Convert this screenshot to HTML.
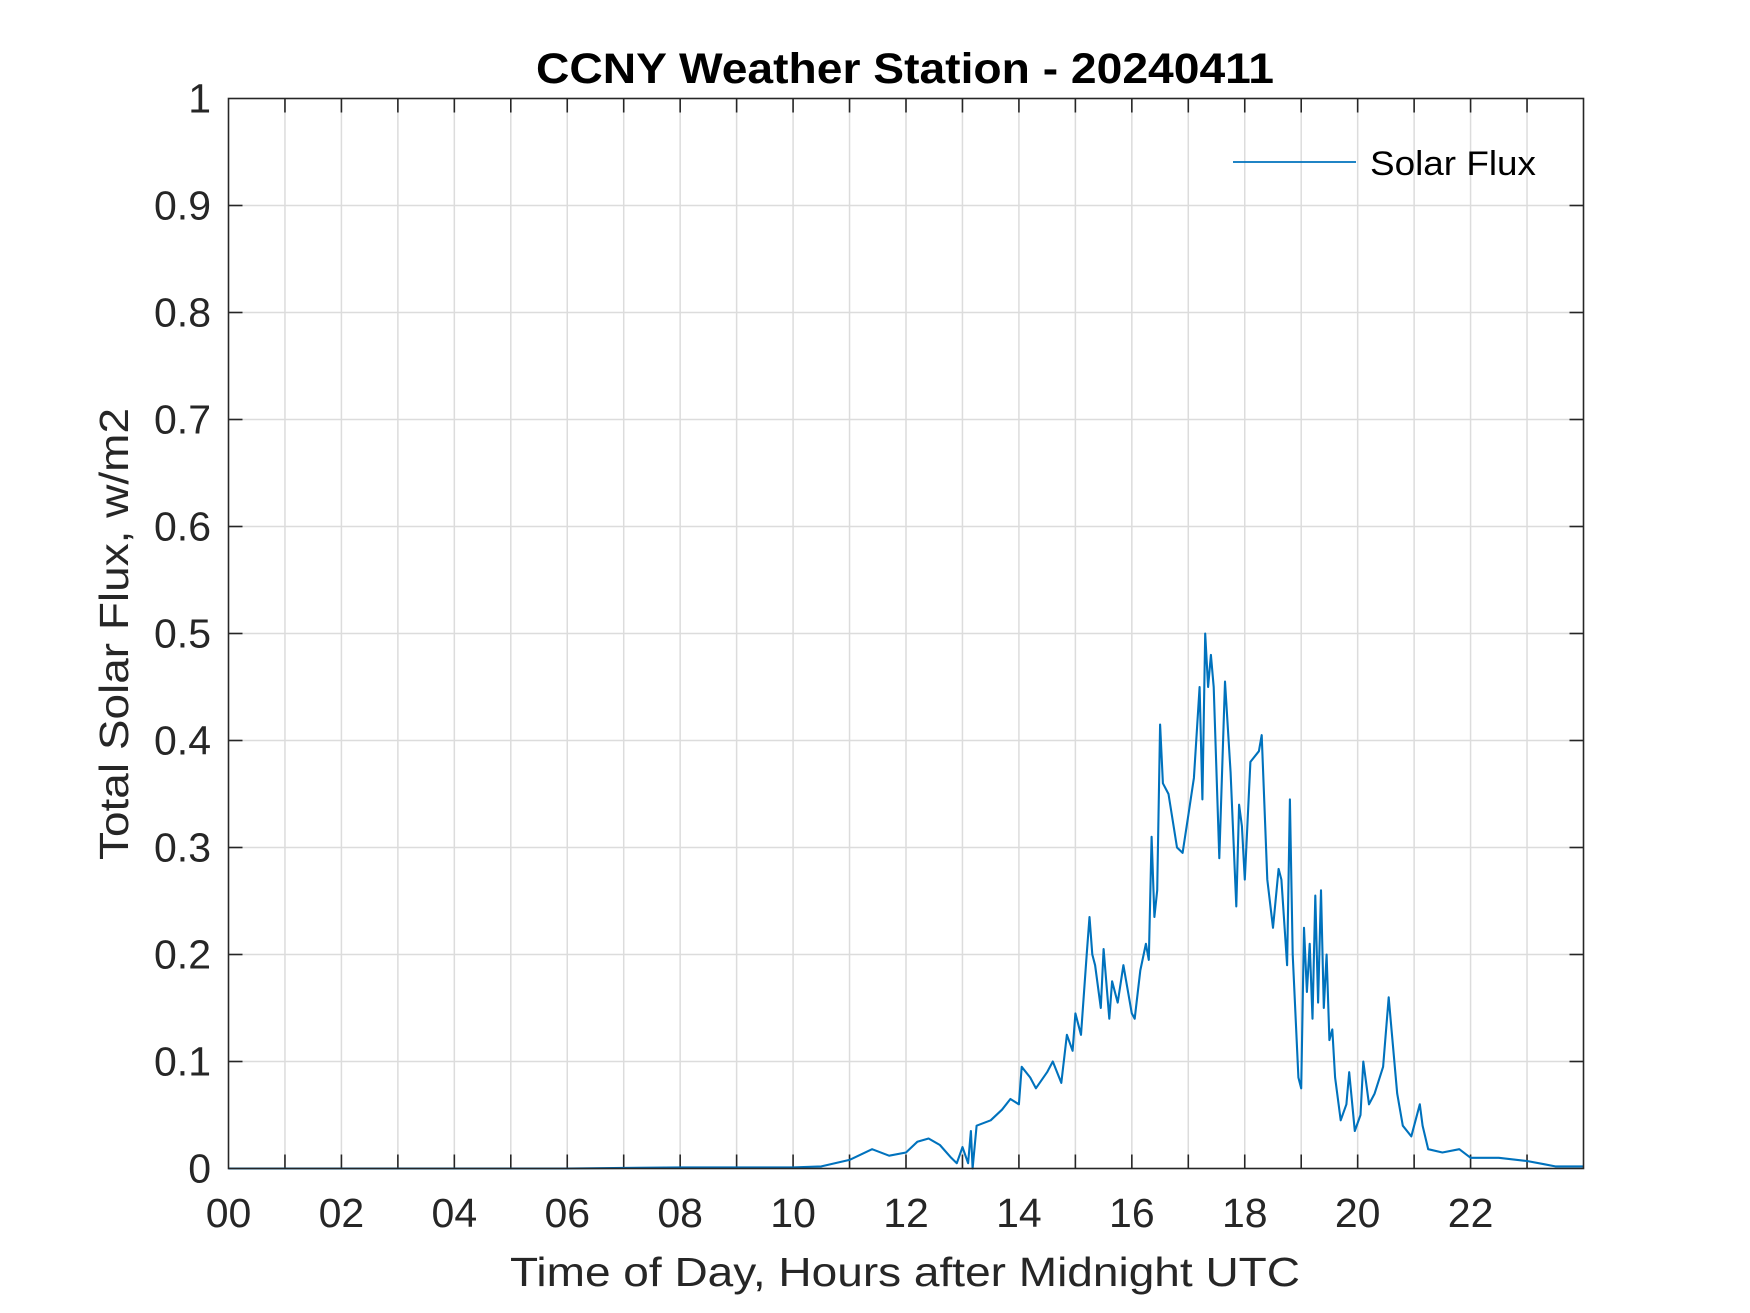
<!DOCTYPE html>
<html><head><meta charset="utf-8">
<style>
html,body{margin:0;padding:0;background:#fff;}
svg{display:block;font-family:"Liberation Sans",Arial,sans-serif;}
</style></head>
<body>
<svg id="chart" width="1750" height="1313" viewBox="0 0 1750 1313" xmlns="http://www.w3.org/2000/svg">
<rect width="1750" height="1313" fill="#fff"/>
<text x="905" y="83" text-anchor="middle" font-size="43" font-weight="bold" fill="#000" textLength="738" lengthAdjust="spacingAndGlyphs">CCNY Weather Station - 20240411</text>
<g id="grid"></g>
<g id="ticks"></g>
<g id="labels"></g>
<polyline id="series" fill="none" stroke="#0072BD" stroke-width="2.1" stroke-linejoin="round"/>
<rect x="228.5" y="98.5" width="1355" height="1070" fill="none" stroke="#262626" stroke-width="1.6"/>
<g>
<line x1="1233" y1="162" x2="1356" y2="162" stroke="#0072BD" stroke-width="1.8"/>
<text x="1370" y="175" font-size="34" fill="#000" textLength="166" lengthAdjust="spacingAndGlyphs">Solar Flux</text>
</g>
<text x="905" y="1286" text-anchor="middle" font-size="41" fill="#262626" textLength="790" lengthAdjust="spacingAndGlyphs">Time of Day, Hours after Midnight UTC</text>
<text transform="translate(128,634) rotate(-90)" text-anchor="middle" font-size="41" fill="#262626" textLength="452" lengthAdjust="spacingAndGlyphs">Total Solar Flux, w/m2</text>
</svg>
<script>
const hours = [0,2,4,6,8,9,10,10.5,11,11.4,11.7,12,12.2,12.4,12.6,12.8,12.9,13.0,13.1,13.15,13.18,13.25,13.5,13.7,13.85,14.0,14.05,14.2,14.3,14.5,14.6,14.75,14.85,14.95,15.0,15.1,15.2,15.25,15.3,15.35,15.45,15.5,15.6,15.65,15.75,15.85,15.9,16.0,16.05,16.15,16.25,16.3,16.35,16.4,16.45,16.5,16.55,16.65,16.8,16.9,17.0,17.1,17.2,17.25,17.3,17.35,17.4,17.45,17.55,17.65,17.75,17.85,17.9,17.95,18.0,18.1,18.25,18.3,18.4,18.5,18.6,18.65,18.75,18.8,18.85,18.95,19.0,19.05,19.1,19.15,19.2,19.25,19.3,19.35,19.4,19.45,19.5,19.55,19.6,19.7,19.8,19.85,19.95,20.05,20.1,20.2,20.3,20.45,20.55,20.6,20.7,20.8,20.95,21.1,21.15,21.25,21.5,21.8,22.0,22.5,23.0,23.3,23.5,24];
const flux = [0,0,0,0,0.001,0.001,0.001,0.002,0.008,0.018,0.012,0.015,0.025,0.028,0.022,0.01,0.005,0.02,0.005,0.035,0,0.04,0.045,0.055,0.065,0.06,0.095,0.085,0.075,0.09,0.1,0.08,0.125,0.11,0.145,0.125,0.2,0.235,0.2,0.19,0.15,0.205,0.14,0.175,0.155,0.19,0.175,0.145,0.14,0.185,0.21,0.195,0.31,0.235,0.26,0.415,0.36,0.35,0.3,0.295,0.33,0.365,0.45,0.345,0.5,0.45,0.48,0.45,0.29,0.455,0.37,0.245,0.34,0.32,0.27,0.38,0.39,0.405,0.27,0.225,0.28,0.27,0.19,0.345,0.2,0.085,0.075,0.225,0.165,0.21,0.14,0.255,0.155,0.26,0.15,0.2,0.12,0.13,0.085,0.045,0.06,0.09,0.035,0.05,0.1,0.06,0.07,0.095,0.16,0.13,0.07,0.04,0.03,0.06,0.04,0.018,0.015,0.018,0.01,0.01,0.007,0.004,0.002,0.002];
const xTickLabels = ["00","02","04","06","08","10","12","14","16","18","20","22"];
const yTickLabels = ["0","0.1","0.2","0.3","0.4","0.5","0.6","0.7","0.8","0.9","1"];

const X0=228.5, X1=1583.5, Y0=1168.5, Y1=98.5;
function xs(h){return X0+(h/24)*(X1-X0);}
function ys(v){return Y0-(v/1)*(Y0-Y1);}
const NS="http://www.w3.org/2000/svg";
const grid=document.getElementById('grid'), ticks=document.getElementById('ticks'), labels=document.getElementById('labels');
function mk(tag,attrs,parent){const e=document.createElementNS(NS,tag);for(const k in attrs)e.setAttribute(k,attrs[k]);parent.appendChild(e);return e;}
for(let h=1;h<24;h++){
  const l=mk('line',{x1:xs(h),x2:xs(h),y1:Y1,y2:Y0,stroke:'#dcdcdc','stroke-width':1.5},grid);
  
  
  const t1=mk('line',{x1:xs(h),x2:xs(h),y1:Y0,y2:Y0-14,stroke:'#262626','stroke-width':1.6},ticks);
  
  
  const t2=mk('line',{x1:xs(h),x2:xs(h),y1:Y1,y2:Y1+14,stroke:'#262626','stroke-width':1.6},ticks);
  
  
}
for(let i=1;i<yTickLabels.length-1;i++){
  const v=i/10;
  const l=mk('line',{x1:X0,x2:X1,y1:ys(v),y2:ys(v),stroke:'#dcdcdc','stroke-width':1.5},grid);
  
  
  const t1=mk('line',{x1:X0,x2:X0+14,y1:ys(v),y2:ys(v),stroke:'#262626','stroke-width':1.6},ticks);
  
  
  const t2=mk('line',{x1:X1-14,x2:X1,y1:ys(v),y2:ys(v),stroke:'#262626','stroke-width':1.6},ticks);
  
  
}
xTickLabels.forEach((s,i)=>{
  const t=mk('text',{x:xs(i*2),y:1227,'text-anchor':'middle','font-size':41,fill:'#262626'},labels);
  t.textContent=s;
  
  
});
yTickLabels.forEach((s,i)=>{
  const t=mk('text',{x:211,y:ys(i/10)+14,'text-anchor':'end','font-size':41,fill:'#262626'},labels);
  t.textContent=s;
  
  
});
document.getElementById('series').setAttribute('points',hours.map((h,i)=>xs(h).toFixed(1)+','+ys(flux[i]).toFixed(1)).join(' '));
</script>
</body></html>
